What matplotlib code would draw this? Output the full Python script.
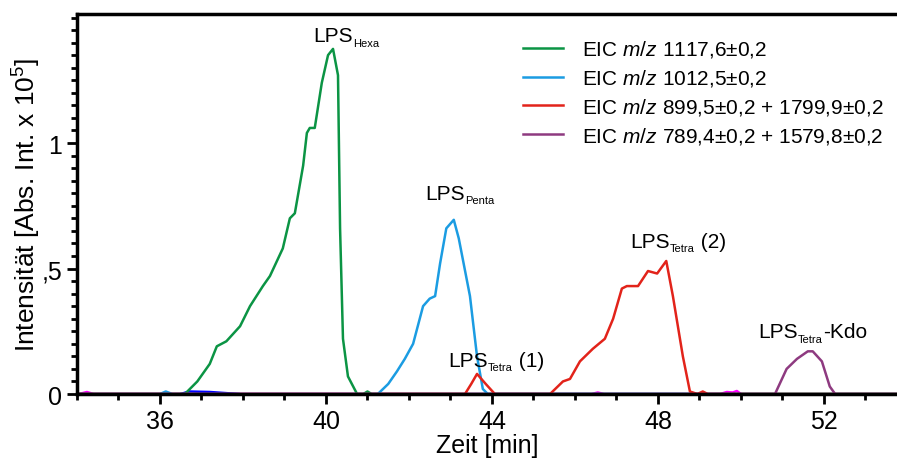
import matplotlib
matplotlib.use('Agg')
import matplotlib.pyplot as plt
from matplotlib.ticker import MultipleLocator, FixedLocator, FuncFormatter

plt.rcParams['font.family'] = ['Liberation Sans', 'DejaVu Sans']
plt.rcParams['mathtext.fontset'] = 'custom'
plt.rcParams['mathtext.rm'] = 'Liberation Sans'
plt.rcParams['mathtext.it'] = 'Liberation Sans:italic'

green, blue, red, purple = "#0b9444", "#1b9ce2", "#e2231a", "#8e3a80"

# retention time [min] and intensity [x 10^5]
t_hexa = [34.0, 36.6, 36.9, 37.2, 37.37, 37.6, 37.93, 38.17, 38.48, 38.65, 38.96,
          39.13, 39.25, 39.45, 39.54, 39.61, 39.73, 39.9, 40.05, 40.17, 40.29,
          40.34, 40.41, 40.53, 40.75, 40.9, 41.0, 41.1, 53.8]
i_hexa = [0.0, 0.0, 0.05, 0.12, 0.19, 0.21, 0.27, 0.35, 0.43, 0.47, 0.58,
          0.70, 0.72, 0.91, 1.04, 1.06, 1.06, 1.24, 1.35, 1.375, 1.27,
          0.66, 0.22, 0.07, 0.0, 0.0, 0.01, 0.0, 0.0]

t_penta = [34.0, 36.0, 36.14, 36.3, 41.25, 41.5, 41.71, 41.9, 42.1, 42.34, 42.5,
           42.63, 42.75, 42.9, 43.08, 43.2, 43.47, 43.64, 43.78, 43.9, 53.8]
i_penta = [0.0, 0.0, 0.01, 0.0, 0.0, 0.04, 0.09, 0.14, 0.2, 0.35, 0.38,
           0.39, 0.52, 0.66, 0.694, 0.62, 0.39, 0.15, 0.02, 0.0, 0.0]

t_tetra = [34.0, 43.35, 43.5, 43.64, 43.85, 44.07, 45.4, 45.71, 45.88, 46.12, 46.43,
           46.72, 46.92, 47.13, 47.25, 47.52, 47.76, 47.98, 48.2, 48.36, 48.6,
           48.77, 48.95, 49.08, 49.2, 53.8]
i_tetra = [0.0, 0.0, 0.04, 0.08, 0.04, 0.0, 0.0, 0.05, 0.06, 0.13, 0.18,
           0.22, 0.30, 0.42, 0.43, 0.43, 0.49, 0.48, 0.53, 0.39, 0.15,
           0.01, 0.0, 0.01, 0.0, 0.0]

t_kdo = [34.0, 50.82, 51.1, 51.35, 51.61, 51.73, 51.95, 52.14, 52.27, 53.8]
i_kdo = [0.0, 0.0, 0.10, 0.14, 0.17, 0.17, 0.13, 0.03, 0.0, 0.0]

# unlabelled traces near the baseline
t_magenta = [34.05, 34.24, 34.4, 46.4, 46.55, 46.7, 49.5, 49.66, 49.8, 49.9, 50.0]
i_magenta = [0.0, 0.008, 0.0, 0.0, 0.006, 0.0, 0.0, 0.008, 0.006, 0.012, 0.0]
t_dblue = [36.5, 36.7, 37.2, 37.9]
i_dblue = [0.0, 0.01, 0.008, 0.0]

labels = [r"EIC $\it{m/z}$ 1117,6±0,2",
          r"EIC $\it{m/z}$ 1012,5±0,2",
          r"EIC $\it{m/z}$ 899,5±0,2 + 1799,9±0,2",
          r"EIC $\it{m/z}$ 789,4±0,2 + 1579,8±0,2"]

# peak labels: (x, y baseline, subscript, suffix)
peaks = [(39.69, 1.406, "Hexa", ""),
         (42.39, 0.777, "Penta", ""),
         (42.94, 0.112, "Tetra", " (1)"),
         (47.33, 0.586, "Tetra", " (2)"),
         (50.41, 0.227, "Tetra", "-Kdo")]

fig = plt.figure(figsize=(8.97, 4.6), dpi=100)
ax = fig.add_axes([0.0858, 0.1413, 0.9142, 0.8261])

lw = 1.8
ax.plot(t_magenta, i_magenta, color="#ff00ff", lw=lw)
ax.plot(t_dblue, i_dblue, color="#0000ff", lw=lw)
ax.plot(t_hexa, i_hexa, color=green, lw=lw, label=labels[0])
ax.plot(t_penta, i_penta, color=blue, lw=lw, label=labels[1])
ax.plot(t_tetra, i_tetra, color=red, lw=lw, label=labels[2])
ax.plot(t_kdo, i_kdo, color=purple, lw=lw, label=labels[3])

ax.set_xlim(34, 53.76)
ax.set_ylim(0, 1.514)
ax.xaxis.set_major_locator(MultipleLocator(4))
ax.xaxis.set_minor_locator(MultipleLocator(1))
ax.yaxis.set_major_locator(FixedLocator([0, 0.5, 1.0]))
ax.yaxis.set_minor_locator(MultipleLocator(0.05))


def de_fmt(v, pos):
    s = ("%g" % v).replace(".", ",")
    return s[1:] if s.startswith("0,") else s


ax.yaxis.set_major_formatter(FuncFormatter(de_fmt))
ax.tick_params(which='major', length=7, width=2, labelsize=18, direction='out')
ax.tick_params(which='minor', length=4, width=2, direction='out')
for s in ["left", "bottom", "top"]:
    ax.spines[s].set_linewidth(2.5)
ax.spines["right"].set_visible(False)

ax.set_xlabel("Zeit [min]", fontsize=18, labelpad=0)
fig.text(27 / 897, 1 - 205 / 460, r"Intensität [Abs. Int. x 10$^5$]", fontsize=19,
         rotation=90, ha='center', va='center')

for x, y, sub, suffix in peaks:
    t1 = ax.text(x, y, "LPS", fontsize=15, ha='left', va='baseline')
    t2 = ax.annotate(sub, xy=(1, 0), xycoords=t1, xytext=(0.3, -1.8),
                     textcoords='offset points', fontsize=8, ha='left', va='bottom')
    if suffix:
        ax.annotate(suffix, xy=(1, 0), xycoords=(t2, t1), fontsize=15,
                    ha='left', va='bottom')

ax.legend(loc='upper left', bbox_to_anchor=(513 / 897, 1 - 29 / 460),
          bbox_transform=fig.transFigure, frameon=False, fontsize=15,
          borderpad=0, handlelength=1.92, handletextpad=0.9, labelspacing=0.38)

fig.savefig("out.png", dpi=100)
